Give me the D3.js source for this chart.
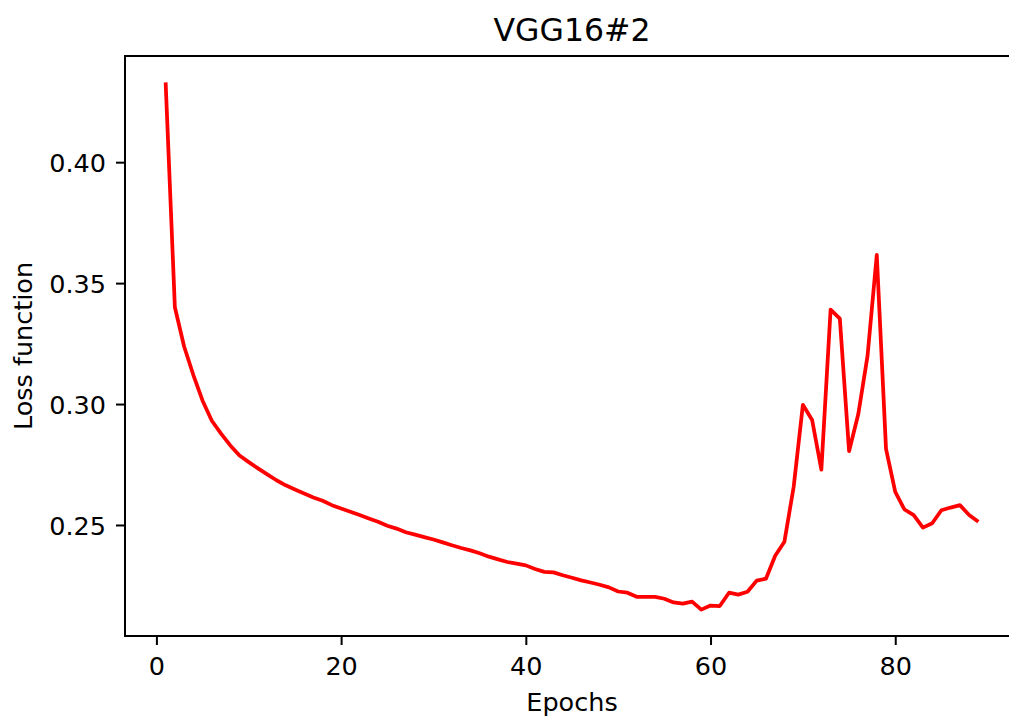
<!DOCTYPE html>
<html lang="en">
<head>
<meta charset="UTF-8">
<title>VGG16#2</title>
<script src="https://d3js.org/d3.v7.min.js"></script>
<style>
  body { margin: 0; background: #fff; font-family: "DejaVu Sans", sans-serif; }
  svg { display: block; }
</style>
</head>
<body>
<svg id="chart" width="1009" height="716"></svg>
<script>
// loss per epoch
const losses = [
  0.4330, 0.3400, 0.3238, 0.3120, 0.3014, 0.2931, 0.2878, 0.2829, 0.2787, 0.2760,
  0.2734, 0.2709, 0.2685, 0.2664, 0.2647, 0.2630, 0.2614, 0.2600, 0.2582, 0.2568,
  0.2555, 0.2541, 0.2527, 0.2513, 0.2497, 0.2485, 0.2470, 0.2460, 0.2450, 0.2440,
  0.2428, 0.2416, 0.2405, 0.2395, 0.2383, 0.2369, 0.2358, 0.2347, 0.2340, 0.2333,
  0.2318, 0.2306, 0.2304, 0.2292, 0.2282, 0.2271, 0.2262, 0.2253, 0.2242, 0.2225,
  0.2220, 0.2203, 0.2203, 0.2203, 0.2195, 0.2180, 0.2175, 0.2183, 0.2150, 0.2167,
  0.2165, 0.2220, 0.2212, 0.2224, 0.2270, 0.2278, 0.2373, 0.2431, 0.2657, 0.2997,
  0.2934, 0.2729, 0.3390, 0.3353, 0.2805, 0.2959, 0.3199, 0.3617, 0.2815, 0.2637,
  0.2564, 0.2541, 0.2489, 0.2507, 0.2561, 0.2572, 0.2582, 0.2541, 0.2513
];
const epochs = losses.map((v, i) => i + 1);
const xTicks = [0, 20, 40, 60, 80];
const yTicks = [0.25, 0.30, 0.35, 0.40];

const title = "VGG16#2";
const xLabel = "Epochs";
const yLabel = "Loss function";

// axes box (right edge falls outside the picture, as in the reference)
const plotL = 125, plotT = 56, plotR = 1019, plotB = 636;

const svg = d3.select("#chart");

// matplotlib-like 5% margins
const xExt = d3.extent(epochs);
const xPad = (xExt[1] - xExt[0]) * 0.05;
const x = d3.scaleLinear()
  .domain([xExt[0] - xPad, xExt[1] + xPad])
  .range([plotL, plotR]);

const yExt = d3.extent(losses);
const yPad = (yExt[1] - yExt[0]) * 0.05;
const y = d3.scaleLinear()
  .domain([yExt[0] - yPad, yExt[1] + yPad])
  .range([plotB, plotT]);

const line = d3.line()
  .x((d, i) => x(epochs[i]))
  .y(d => y(d));

svg.append("path")
  .datum(losses)
  .attr("fill", "none")
  .attr("stroke", "#ff0000")
  .attr("stroke-width", 3.75)
  .attr("stroke-linejoin", "round")
  .attr("d", line);

// frame
svg.append("rect")
  .attr("x", plotL)
  .attr("y", plotT)
  .attr("width", plotR - plotL)
  .attr("height", plotB - plotT)
  .attr("fill", "none")
  .attr("stroke", "#000")
  .attr("stroke-width", 2);

const xAxis = svg.append("g")
  .attr("transform", `translate(0,${plotB})`)
  .call(d3.axisBottom(x).tickValues(xTicks).tickFormat(d3.format("d"))
    .tickSize(9).tickPadding(9));

const yAxis = svg.append("g")
  .attr("transform", `translate(${plotL},0)`)
  .call(d3.axisLeft(y).tickValues(yTicks).tickFormat(d3.format(".2f"))
    .tickSize(9).tickPadding(10));

[xAxis, yAxis].forEach(g => {
  g.select(".domain").remove();
  g.selectAll(".tick line").attr("stroke", "#000").attr("stroke-width", 2);
  g.selectAll(".tick text")
    .attr("fill", "#000")
    .style("font-family", "'DejaVu Sans', sans-serif")
    .style("font-size", "25.5px");
});
xAxis.selectAll(".tick text").attr("dy", null).attr("y", 39);
yAxis.selectAll(".tick text").attr("dy", "0.36em");

svg.append("text")
  .attr("x", (plotL + plotR) / 2)
  .attr("y", 41)
  .attr("text-anchor", "middle")
  .style("font-size", "31.5px")
  .text(title);

svg.append("text")
  .attr("x", (plotL + plotR) / 2)
  .attr("y", 711)
  .attr("text-anchor", "middle")
  .style("font-size", "25.5px")
  .text(xLabel);

svg.append("text")
  .attr("transform", `translate(32,${(plotT + plotB) / 2}) rotate(-90)`)
  .attr("text-anchor", "middle")
  .style("font-size", "25.5px")
  .text(yLabel);
</script>
</body>
</html>
